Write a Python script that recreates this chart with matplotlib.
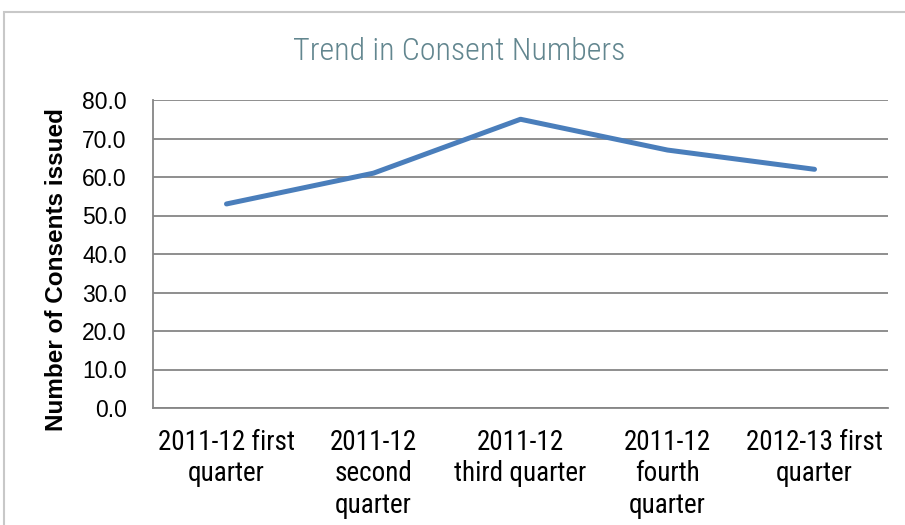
import matplotlib
matplotlib.use("Agg")
import matplotlib.pyplot as plt
from matplotlib.patches import Rectangle

categories = [
    "2011-12 first\nquarter",
    "2011-12\nsecond\nquarter",
    "2011-12\nthird quarter",
    "2011-12\nfourth\nquarter",
    "2012-13 first\nquarter",
]
consents = [53.0, 61.0, 75.0, 67.0, 62.0]
y_ticks = [0, 10, 20, 30, 40, 50, 60, 70, 80]

condensed = ["Roboto Condensed", "DejaVu Sans"]
regular = ["Liberation Sans", "DejaVu Sans"]

W, H = 905, 525
fig = plt.figure(figsize=(W / 100, H / 100), dpi=100)
fig.patch.set_facecolor("white")

# chart-area border
fig.patches.append(Rectangle((4 / W, -0.05), 1.2, 1 - 12 / H + 0.05,
                             transform=fig.transFigure, fill=False,
                             edgecolor="#C8C8C8", linewidth=1.5, zorder=0))

ax = fig.add_axes([153 / W, 1 - 408 / H, (888 - 153) / W, (408 - 100) / H])

x = list(range(len(categories)))
ax.plot(x, consents, color="#4A7EBB", linewidth=3.6, solid_capstyle="round",
        solid_joinstyle="round", zorder=3)

ax.set_xlim(-0.5, len(categories) - 0.5)
ax.set_ylim(0, 80)
ax.set_yticks(y_ticks)
ax.set_yticklabels([f"{v:.1f}" for v in y_ticks], family=regular, fontsize=16.5)
ax.set_xticks(x)
ax.set_xticklabels(categories, family=condensed, fontsize=19.5, linespacing=1.22)

ax.yaxis.grid(True, color="#868686", linewidth=1.3)
ax.set_axisbelow(True)
for side in ["top", "right"]:
    ax.spines[side].set_visible(False)
for side in ["left", "bottom"]:
    ax.spines[side].set_color("#868686")
    ax.spines[side].set_linewidth(1.3)
ax.tick_params(axis="y", length=0, pad=19)
ax.tick_params(axis="x", length=0, pad=15)

fig.text(57 / W, 1 - 270 / H, "Number of Consents issued", family=regular,
         fontsize=17.5, fontweight="bold", rotation=90, ha="center", va="center")

fig.text(459 / W, 1 - 51 / H, "Trend in Consent Numbers", family=condensed,
         fontweight=300, fontsize=23, color="#62868F", ha="center", va="center")

fig.savefig("out.png", dpi=100, facecolor="white")
